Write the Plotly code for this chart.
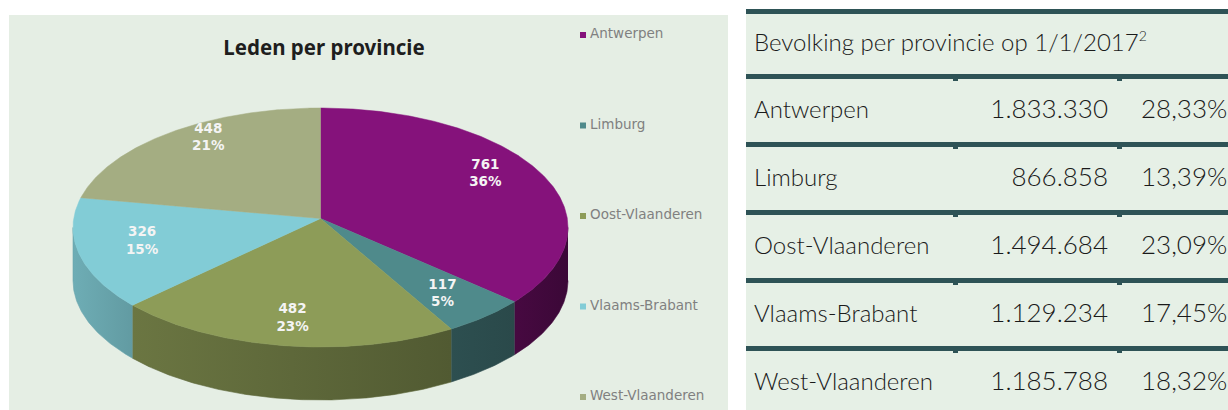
import numpy as np
import plotly.graph_objects as go

# ---------------- data ----------------
provinces = ["Antwerpen", "Limburg", "Oost-Vlaanderen", "Vlaams-Brabant", "West-Vlaanderen"]
members = [761, 117, 482, 326, 448]
population = [1833330, 866858, 1494684, 1129234, 1185788]
pop_share = [28.33, 13.39, 23.09, 17.45, 18.32]
chart_title = "Leden per provincie"
table_title = "Bevolking per provincie op 1/1/2017<sup><span style=\"font-size:14px\">2</span></sup>"

# ---------------- style ----------------
top_colors = ["#85127b", "#4f8a8b", "#8d9c58", "#82ccd6", "#a4ad82"]
W, H = 1228, 410
CX, CY, RX, RY, DEPTH = 320.5, 227.5, 247.5, 119.5, 53
APEX_DY = -9
LINE = "#2e5356"
BG = "#e5eee4"


def hex_rgb(h):
    h = h.lstrip("#")
    return tuple(int(h[i:i + 2], 16) for i in (0, 2, 4))


def shade(h, f):
    r, g, b = hex_rgb(h)
    return "rgb(%d,%d,%d)" % (r * f, g * f, b * f)


def fshade(theta):
    return 0.45 + 0.4 * (theta - 90) / 180.0


def ex(t):
    return CX + RX * np.sin(np.radians(t))


def ey(t):
    return CY - RY * np.cos(np.radians(t))


fig = go.Figure()

total = sum(members)
fracs = [m / total for m in members]
starts = np.concatenate([[0], np.cumsum(fracs)[:-1]]) * 360
ends = np.cumsum(fracs) * 360

# side walls (front half only)
for i in range(len(members)):
    a, b = max(starts[i], 90), min(ends[i], 270)
    if b <= a:
        continue
    th = np.linspace(a, b, max(int((b - a) / 0.5), 2))
    xs = np.concatenate([ex(th), ex(th[::-1])])
    ys = np.concatenate([ey(th), ey(th[::-1]) + DEPTH])
    fig.add_trace(go.Scatter(
        x=xs, y=ys, mode="lines", fill="toself",
        line=dict(width=0.6, color=shade(top_colors[i], fshade((a + b) / 2))),
        fillgradient=dict(type="horizontal",
                          colorscale=[[0, shade(top_colors[i], fshade(b))],
                                      [1, shade(top_colors[i], fshade(a))]]),
        hoverinfo="skip", showlegend=False))

# top faces
for i in range(len(members)):
    th = np.linspace(starts[i], ends[i], max(int((ends[i] - starts[i]) / 0.5), 2))
    xs = np.concatenate([[CX], ex(th), [CX]])
    ys = np.concatenate([[CY + APEX_DY], ey(th), [CY + APEX_DY]])
    fig.add_trace(go.Scatter(
        x=xs, y=ys, mode="lines", fill="toself", fillcolor=top_colors[i],
        line=dict(width=0.5, color=top_colors[i]),
        hoverinfo="skip", showlegend=False))

# data labels
mids = (starts + ends) / 2
lx = CX + RX * 0.74 * np.sin(np.radians(mids))
ly = CY + APEX_DY - RY * 0.85 * np.cos(np.radians(mids))
fig.add_trace(go.Scatter(
    x=lx, y=ly, mode="text",
    text=["%d<br>%d%%" % (m, round(f * 100)) for m, f in zip(members, fracs)],
    textfont=dict(family="DejaVu Sans", size=13.5, color="#f4f4f4", weight="bold"),
    hoverinfo="skip", showlegend=False))

# legend (custom)
leg_y = [35 + 90.5 * i for i in range(len(provinces))]
fig.add_trace(go.Scatter(
    x=[583] * len(provinces), y=leg_y, mode="markers",
    marker=dict(symbol="square", size=6, color=top_colors),
    hoverinfo="skip", showlegend=False))
fig.add_trace(go.Scatter(
    x=[590] * len(provinces), y=leg_y, mode="text", text=provinces,
    textposition="middle right",
    textfont=dict(family="DejaVu Sans", size=13.5, color="#808080"),
    hoverinfo="skip", showlegend=False))

# chart title
fig.add_trace(go.Scatter(
    x=[324], y=[50], mode="text", text=[chart_title],
    textfont=dict(family="Noto Sans", size=20.5, color="#1e1e1e", weight="bold"),
    hoverinfo="skip", showlegend=False))

# ---------------- table ----------------
row_top = [9] + [74 + 68 * i for i in range(len(provinces))]
row_centers = [45] + [row_top[i + 1] + 5 + 32.5 for i in range(len(provinces))]
TFONT = dict(family="Lato", size=24, color="#1a1a1a", weight=300)
NFONT = dict(family="Lato", size=26, color="#1a1a1a", weight=300)


def nl_int(v):
    return "{:,}".format(v).replace(",", ".")


def nl_pct(v):
    return ("%.2f" % v).replace(".", ",") + "%"


fig.add_trace(go.Scatter(
    x=[754], y=[row_centers[0]], mode="text", text=[table_title],
    textposition="middle right", textfont=TFONT, hoverinfo="skip", showlegend=False))
fig.add_trace(go.Scatter(
    x=[754] * len(provinces), y=row_centers[1:], mode="text", text=provinces,
    textposition="middle right", textfont=TFONT, hoverinfo="skip", showlegend=False))
fig.add_trace(go.Scatter(
    x=[1108] * len(provinces), y=row_centers[1:], mode="text",
    text=[nl_int(v) for v in population],
    textposition="middle left", textfont=NFONT, hoverinfo="skip", showlegend=False))
fig.add_trace(go.Scatter(
    x=[1141] * len(provinces), y=row_centers[1:], mode="text",
    text=[nl_pct(v) for v in pop_share],
    textposition="middle right", textfont=NFONT, hoverinfo="skip", showlegend=False))

shapes = [
    dict(type="rect", xref="x", yref="y", x0=9, x1=728, y0=15, y1=H + 5,
         fillcolor=BG, line_width=0, layer="below"),
    dict(type="rect", xref="x", yref="y", x0=746, x1=W + 5, y0=9, y1=H + 5,
         fillcolor="#e6f0e6", line_width=0, layer="below"),
]
for k, yt in enumerate(row_top):
    shapes.append(dict(type="rect", xref="x", yref="y", x0=746, x1=W + 5, y0=yt, y1=yt + 5,
                       fillcolor=LINE, line_width=0, layer="above"))
    if k > 0:
        for nx in (953, 1117):
            shapes.append(dict(type="rect", xref="x", yref="y", x0=nx, x1=nx + 5,
                               y0=yt + 4, y1=yt + 7, fillcolor=LINE, line_width=0,
                               layer="above"))

fig.update_layout(
    width=W, height=H, margin=dict(l=0, r=0, t=0, b=0),
    paper_bgcolor="white", plot_bgcolor="white",
    xaxis=dict(range=[0, W], visible=False, fixedrange=True),
    yaxis=dict(range=[H, 0], visible=False, fixedrange=True),
    shapes=shapes, showlegend=False,
)

fig.write_html(
    "out.html",
    config={"displayModeBar": False},
    post_script="document.body.style.margin='0';document.body.style.overflow='hidden';",
)
